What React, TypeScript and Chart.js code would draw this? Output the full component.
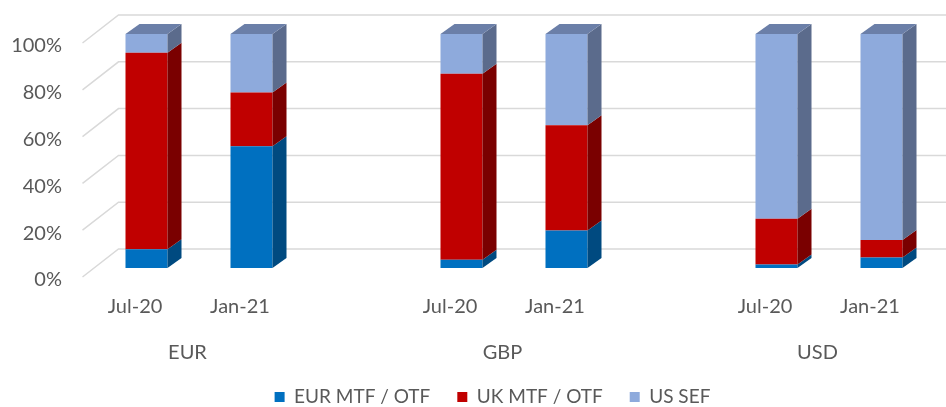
import React, { useEffect, useRef } from "react";
import { Chart, registerables } from "chart.js";

Chart.register(...registerables);

const categories = ["Jul-20", "Jan-21", "", "Jul-20", "Jan-21", "", "Jul-20", "Jan-21"];
const groups = ["EUR", "GBP", "USD"];
const groupStart = [0, 3, 6];
const eurMtf = [8, 52, null, 3.5, 16, null, 1.5, 4.5];
const ukMtf = [84, 23, null, 79.5, 45, null, 19.5, 7.5];
const usSef = [8, 25, null, 17, 39, null, 79, 88];
const yTicks = [0, 20, 40, 60, 80, 100];

const seriesNames = ["EUR MTF / OTF", "UK MTF / OTF", "US SEF"];
const frontColors = ["#0070C0", "#C00000", "#8EAADC"];
const sideColors = ["#004A80", "#7A0000", "#5B6B8C"];
const topColors = ["#005A9C", "#9A0000", "#6B7FA8"];

const TEXT = "#595959";
const FONT = "Lato, 'Noto Sans', sans-serif";

// 3D geometry (pixels)
const WALL_DX = 36, WALL_DY = -28; // depth of the floor/back wall
const BAR_DX = 11.5, BAR_DY = -9; // bars sit inside the depth
const SIDE_DX = 14, SIDE_DY = -10; // bar thickness
const LEGEND_CENTER_X = 492.5;

const threeD = {
  id: "threeD",
  afterLayout(chart: any) {
    const lg = chart.legend;
    if (lg) {
      const shift = LEGEND_CENTER_X - (lg.left + lg.right) / 2;
      lg.left += shift;
      lg.right += shift;
    }
  },
  beforeDatasetsDraw(chart: any) {
    const { ctx, chartArea } = chart;
    const y = chart.scales.y;
    ctx.save();
    ctx.strokeStyle = "#D9D9D9";
    ctx.lineWidth = 1.5;
    y.ticks.forEach((t: any) => {
      const py = y.getPixelForValue(t.value);
      ctx.beginPath();
      ctx.moveTo(chartArea.left, py);
      ctx.lineTo(chartArea.left + WALL_DX, py + WALL_DY);
      ctx.lineTo(chart.width, py + WALL_DY);
      ctx.stroke();
    });
    ctx.restore();
    ctx.save();
    ctx.translate(BAR_DX, BAR_DY);
  },
  afterDatasetsDraw(chart: any) {
    const { ctx } = chart;
    const n = categories.length;
    for (let i = 0; i < n; i++) {
      let topDs = -1;
      chart.data.datasets.forEach((ds: any, d: number) => {
        const meta = chart.getDatasetMeta(d);
        const el: any = meta.data[i];
        const v = ds.data[i];
        if (!el || v == null || v === 0) return;
        const { x, y, base, width } = el.getProps(["x", "y", "base", "width"], true);
        const right = x + width / 2;
        const top = Math.min(y, base);
        const bottom = Math.max(y, base);
        ctx.fillStyle = sideColors[d];
        ctx.beginPath();
        ctx.moveTo(right, bottom);
        ctx.lineTo(right + SIDE_DX, bottom + SIDE_DY);
        ctx.lineTo(right + SIDE_DX, top + SIDE_DY);
        ctx.lineTo(right, top);
        ctx.closePath();
        ctx.fill();
        topDs = d;
      });
      if (topDs >= 0) {
        const el: any = chart.getDatasetMeta(topDs).data[i];
        const { x, y, base, width } = el.getProps(["x", "y", "base", "width"], true);
        const left = x - width / 2;
        const right = x + width / 2;
        const top = Math.min(y, base);
        ctx.fillStyle = topColors[topDs];
        ctx.beginPath();
        ctx.moveTo(left, top);
        ctx.lineTo(left + SIDE_DX, top + SIDE_DY);
        ctx.lineTo(right + SIDE_DX, top + SIDE_DY);
        ctx.lineTo(right, top);
        ctx.closePath();
        ctx.fill();
      }
    }
    ctx.restore();
  },
};

export default function App() {
  const ref = useRef<HTMLCanvasElement>(null);
  useEffect(() => {
    document.body.style.margin = "0";
    const canvas = ref.current!;
    const chart = new Chart(canvas, {
      type: "bar",
      data: {
        labels: categories,
        datasets: [eurMtf, ukMtf, usSef].map((data, d) => ({
          label: seriesNames[d],
          data,
          backgroundColor: frontColors[d],
          borderWidth: 0,
          barPercentage: 0.4,
          categoryPercentage: 1,
          clip: false as any,
        })),
      },
      options: {
        animation: false,
        responsive: false,
        layout: { padding: { left: 0, right: 23.5, top: 43, bottom: 0 } },
        scales: {
          x: {
            stacked: true,
            grid: { display: false, drawTicks: false },
            border: { display: false },
            ticks: { color: TEXT, font: { family: FONT, size: 20 }, padding: 18, autoSkip: false, maxRotation: 0 },
            afterFit: (s: any) => { s.height = 40; },
          },
          x2: {
            type: "linear",
            position: "bottom",
            offset: false,
            min: -0.5,
            max: categories.length - 0.5,
            grid: { display: false, drawTicks: false },
            border: { display: false },
            afterBuildTicks: (s: any) => {
              s.ticks = groupStart.map((g) => ({ value: g + 0.5 }));
            },
            ticks: {
              color: TEXT,
              font: { family: FONT, size: 20 },
              padding: 24,
              autoSkip: false,
              maxRotation: 0,
              callback: (v: any) => groups[groupStart.indexOf(Number(v) - 0.5)] ?? "",
            },
            afterFit: (s: any) => { s.height = 43.5; },
          },
          y: {
            stacked: true,
            min: 0,
            max: 100,
            grid: { display: false, drawTicks: false },
            border: { display: false },
            afterBuildTicks: (s: any) => { s.ticks = yTicks.map((v) => ({ value: v })); },
            ticks: {
              color: TEXT,
              font: { family: FONT, size: 20, lineHeight: "6px" },
              padding: 20.5,
              callback: (v: any) => ["", v + "%"],
            },
            afterFit: (s: any) => { s.width = 82.5; },
          },
        },
        plugins: {
          legend: {
            position: "bottom",
            maxHeight: 46.5,
            labels: {
              color: TEXT,
              font: { family: FONT, size: 19 },
              boxWidth: 10,
              boxHeight: 10,
              padding: 27,
            },
          } as any,
          tooltip: { enabled: false },
        },
      } as any,
      plugins: [threeD],
    });
    return () => chart.destroy();
  }, []);
  return (
    <div style={{ width: 946, height: 407 }}>
      <canvas ref={ref} width={946} height={407} style={{ display: "block" }} />
    </div>
  );
}
